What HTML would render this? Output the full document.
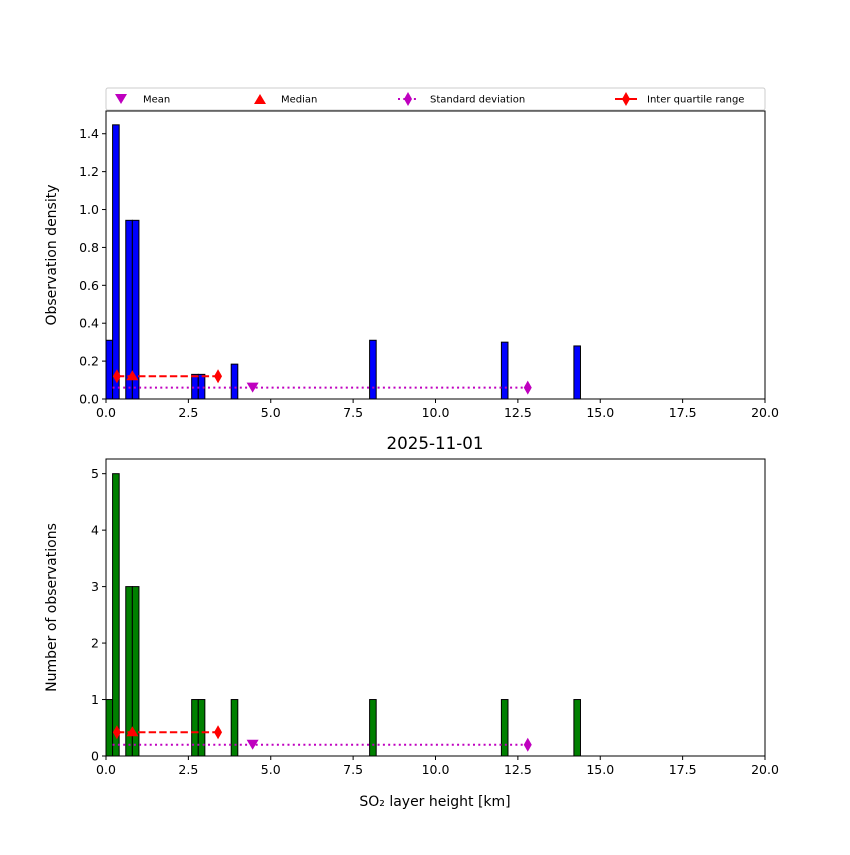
<!DOCTYPE html>
<html><head><meta charset="utf-8"><style>
body{margin:0;background:#fff;}
svg text{font-family:"DejaVu Sans","Liberation Sans",sans-serif;}
</style></head><body>
<svg id="c" width="850" height="850" xmlns="http://www.w3.org/2000/svg"></svg>
<script>
const binStarts=[0,0.2,0.6,0.8,2.6,2.8,3.8,8.0,12.0,14.2];
const binWidth=0.2;
const densities=[0.31,1.447,0.943,0.943,0.13,0.13,0.184,0.31,0.30,0.28];
const counts=[1,5,3,3,1,1,1,1,1,1];
const xTicks=[0,2.5,5,7.5,10,12.5,15,17.5,20];
const xTickLabels=["0.0","2.5","5.0","7.5","10.0","12.5","15.0","17.5","20.0"];
const topYTicks=[0,0.2,0.4,0.6,0.8,1.0,1.2,1.4];
const botYTicks=[0,1,2,3,4,5];
const meanX=[4.45], medianX=[0.8], iqrX=[0.33,3.4], stdX=[0.2,12.8];
const topStatY=[0.12,0.06], botStatY=[0.42,0.2];

const NS="http://www.w3.org/2000/svg";
const svg=document.getElementById('c');
function mk(t,a,p){const e=document.createElementNS(NS,t);for(const k in a)e.setAttribute(k,a[k]);(p||svg).appendChild(e);return e;}
const L=106,R=765;
const X=v=>L+(R-L)*v/20;

function panel(top,bottom,ymax,ticks,fmt,vals,color,statY,ylabel,name){
  const g=mk('g',{});
  
  
  const Y=v=>bottom-(bottom-top)*v/ymax;
  binStarts.forEach((s,i)=>{
    const r=mk('rect',{x:X(s),y:Y(vals[i]),width:X(s+binWidth)-X(s),height:bottom-Y(vals[i]),fill:color,stroke:'#000','stroke-width':1},g);
    
    
  });
  const sl=mk('line',{x1:X(stdX[0]),x2:X(stdX[1]),y1:Y(statY[1]),y2:Y(statY[1]),stroke:'#bf00bf','stroke-width':2,'stroke-dasharray':'2,3.3'},g);
  
  const sd=mk('path',{d:`M${X(stdX[1])},${Y(statY[1])-7}l4,7l-4,7l-4,-7z`,fill:'#bf00bf'},g);
  
  const il=mk('line',{x1:X(iqrX[0]),x2:X(iqrX[1]),y1:Y(statY[0]),y2:Y(statY[0]),stroke:'red','stroke-width':2,'stroke-dasharray':'7.4,3.2'},g);
  
  iqrX.forEach(v=>{const d=mk('path',{d:`M${X(v)},${Y(statY[0])-7}l4,7l-4,7l-4,-7z`,fill:'red'},g);
    });
  const md=mk('path',{d:`M${X(medianX[0])},${Y(statY[0])-6}l6,10h-12z`,fill:'red'},g);
  
  const mn=mk('path',{d:`M${X(meanX[0])},${Y(statY[1])+5}l6,-10h-12z`,fill:'#bf00bf'},g);
  
  mk('rect',{x:L,y:top,width:R-L,height:bottom-top,fill:'none',stroke:'#000','stroke-width':1},g);
  xTicks.forEach((t,i)=>{
    mk('line',{x1:X(t),x2:X(t),y1:bottom,y2:bottom+4,stroke:'#000'},g);
    const tx=mk('text',{x:X(t),y:bottom+18,'font-size':12.5,'text-anchor':'middle'},g);tx.textContent=xTickLabels[i];
    
  });
  ticks.forEach(t=>{
    mk('line',{x1:L-4,x2:L,y1:Y(t),y2:Y(t),stroke:'#000'},g);
    const tx=mk('text',{x:L-7,y:Y(t)+4.5,'font-size':12.5,'text-anchor':'end'},g);tx.textContent=fmt(t);
    
  });
  const yl=mk('text',{transform:`translate(56,${(top+bottom)/2}) rotate(-90)`,'font-size':14,'text-anchor':'middle'},g);
  yl.textContent=ylabel;
  
}
panel(111,399,1.52,topYTicks,t=>t.toFixed(1),densities,'#0000ff',topStatY,'Observation density','density-panel');
panel(459,756,5.26,botYTicks,t=>String(t),counts,'#008000',botStatY,'Number of observations','count-panel');

const title=mk('text',{x:435,y:449,'font-size':16.7,'text-anchor':'middle'});title.textContent='2025-11-01';

const xl=mk('text',{x:435,y:806,'font-size':14,'text-anchor':'middle'});xl.textContent='SO₂ layer height [km]';


const lg=mk('g',{});

mk('rect',{x:106,y:88,width:659,height:22,rx:2,fill:'#fff',stroke:'#ccc'},lg);
const ly=99;
mk('path',{d:`M115,${ly-5}h12l-6,10z`,fill:'#bf00bf'},lg);
mk('path',{d:`M254,${ly+5}h12l-6,-10z`,fill:'red'},lg);
mk('line',{x1:398,x2:418,y1:ly,y2:ly,stroke:'#bf00bf','stroke-width':2,'stroke-dasharray':'2,3.3'},lg);
mk('path',{d:`M408,${ly-7}l4,7l-4,7l-4,-7z`,fill:'#bf00bf'},lg);
mk('line',{x1:615,x2:637,y1:ly,y2:ly,stroke:'red','stroke-width':2},lg);
mk('path',{d:`M626,${ly-7}l4,7l-4,7l-4,-7z`,fill:'red'},lg);
[['Mean',143],['Median',281],['Standard deviation',430],['Inter quartile range',647]].forEach(([t,x])=>{
  const e=mk('text',{x:x,y:ly+3.5,'font-size':10,'textLength':0},lg);e.removeAttribute('textLength');e.textContent=t;
  
});
</script>
</body></html>
